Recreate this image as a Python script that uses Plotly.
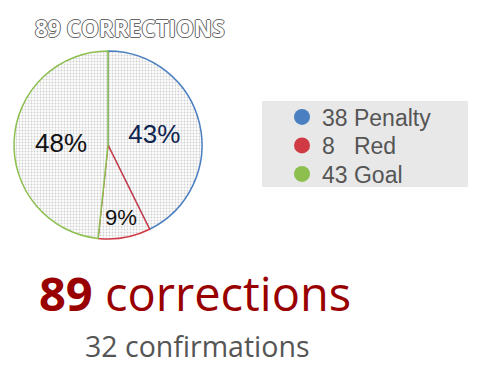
import plotly.graph_objects as go

categories = ["Penalty", "Red", "Goal"]
values = [38, 8, 43]
legend_labels = ["38 Penalty", "8\u2007\u00a0Red", "43 Goal"]
colors = ["#4a7fc1", "#cf3a45", "#8dbf4f"]
text_colors = ["#0d2350", "#111111", "#111111"]
title_text = "89 CORRECTIONS"
headline_num = "89"
headline_word = "corrections"
subline = "32 confirmations"

W, H = 478, 376

fig = go.Figure()

cx, cy, r = 108, 145, 94
fig.add_trace(go.Pie(
    labels=categories,
    values=values,
    sort=False,
    direction="clockwise",
    rotation=0,
    textinfo="percent",
    texttemplate="%{percent:.0%}",
    textposition="inside",
    insidetextorientation="horizontal",
    textfont=dict(family="Liberation Sans, Arial", size=26, color=text_colors),
    marker=dict(
        colors=colors,
        line=dict(color=colors, width=1.5),
        pattern=dict(shape=".", fgcolor="#d0d0d0", bgcolor="#fdfdfd", size=3, solidity=0.3, fillmode="replace"),
    ),
    domain=dict(x=[(cx - r) / W, (cx + r) / W], y=[(H - cy - r) / H, (H - cy + r) / H]),
    showlegend=False,
    hoverinfo="label+value+percent",
))

legend_ids = ["legend", "legend2", "legend3"]
row_y = [117, 145.5, 174]
legend_font = dict(family="Liberation Sans, Arial", size=23, color="#555555")
legend_layout = {}
for lab, col, lid, ry in zip(legend_labels, colors, legend_ids, row_y):
    fig.add_trace(go.Scatter(
        x=[None], y=[None], mode="markers", name=lab, legend=lid,
        marker=dict(color=col, size=16, symbol="circle"),
    ))
    legend_layout[lid] = dict(
        x=(301 - 19) / W, xanchor="left", y=1 - ry / H, yanchor="middle",
        bgcolor="rgba(0,0,0,0)", borderwidth=0, font=legend_font, itemsizing="trace",
    )

fig.add_shape(type="rect", xref="paper", yref="paper",
              x0=262 / W, x1=468 / W, y0=1 - 187 / H, y1=1 - 101 / H,
              fillcolor="#e8e8e8", line=dict(width=0), layer="below")

fig.update_layout(
    width=W, height=H,
    margin=dict(l=0, r=0, t=0, b=0),
    paper_bgcolor="white", plot_bgcolor="white",
    xaxis=dict(visible=False), yaxis=dict(visible=False),
    showlegend=True,
    **legend_layout,
    annotations=[
        dict(text=title_text, x=33 / W, y=1 - 28 / H, xref="paper", yref="paper",
             xanchor="left", yanchor="middle", showarrow=False,
             font=dict(family="Open Sans", size=22.5, weight=700, color="white",
                       shadow="1px 0 0 #666, -1px 0 0 #666, 0 1px 0 #666, 0 -1px 0 #666")),
        dict(text=f"<b>{headline_num}</b> {headline_word}", x=37 / W, y=1 - 293 / H,
             xref="paper", yref="paper", xanchor="left", yanchor="middle", showarrow=False,
             font=dict(family="Open Sans", size=47, color="#990000")),
        dict(text=subline, x=83 / W, y=1 - 346 / H, xref="paper", yref="paper",
             xanchor="left", yanchor="middle", showarrow=False,
             font=dict(family="Open Sans", size=28.5, color="#555555")),
    ],
)

fig.write_html("out.html")
